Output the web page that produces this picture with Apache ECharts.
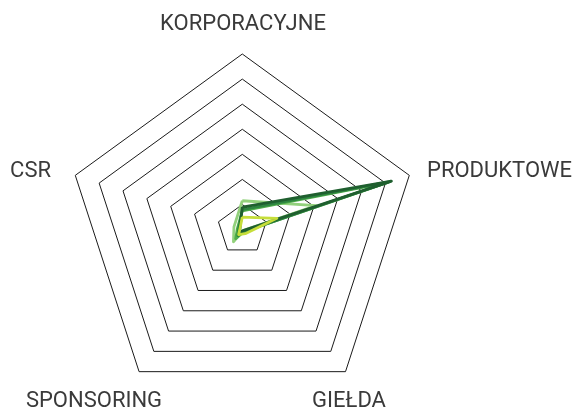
<!DOCTYPE html>
<html>
<head>
<meta charset="utf-8">
<script src="https://cdn.jsdelivr.net/npm/echarts@6/dist/echarts.min.js"></script>
<style>
  html, body { margin: 0; padding: 0; background: #fff; }
  #chart { width: 582px; height: 412px; }
</style>
</head>
<body>
<div id="chart"></div>
<script>
// axes go counter-clockwise from the top
var indicators = ['KORPORACYJNE', 'CSR', 'SPONSORING', 'GIEŁDA', 'PRODUKTOWE'];
var axisMax = 7;

var seriesNames = ['S4', 'S3', 'S2', 'S1', 'S5'];
var seriesColors = ['#92d17c', '#4fae4a', '#2e8540', '#1f5f2f', '#c6de3a'];
var valuesS4 = [1.15, 0.35, 0.6, 0.05, 3.1];
var valuesS3 = [0.75, 0.2, 0.45, 0.1, 6.1];
var valuesS2 = [0.8, 0.15, 0.3, 0.1, 6.2];
var valuesS1 = [0.9, 0.1, 0.15, 0.05, 6.25];
var valuesS5 = [0.5, 0.1, 0.25, 0.2, 1.45];
var seriesValues = [valuesS4, valuesS3, valuesS2, valuesS1, valuesS5];

var chart = echarts.init(document.getElementById('chart'));

var labelFont = '22px Roboto, "Noto Sans", sans-serif';
function label(text, x, y, align) {
  return {
    type: 'text', x: x, y: y, silent: true,
    style: {
      text: text, font: labelFont, fill: '#3a3a3a',
      textAlign: align, textVerticalAlign: 'middle',
      align: align, verticalAlign: 'middle'
    }
  };
}

chart.setOption({
  animation: false,
  radar: {
    center: [242.3, 229.6],
    radius: 175.6,
    shape: 'polygon',
    splitNumber: 7,
    startAngle: 90,
    indicator: indicators.map(function(n) { return { name: n, min: 0, max: axisMax }; }),
    axisName: { show: false },
    axisLine: { show: false },
    axisTick: { show: false },
    splitArea: { show: false },
    splitLine: { lineStyle: { color: '#1a1a1a', width: 1 } }
  },
  graphic: [
    label('KORPORACYJNE', 243, 24, 'center'),
    label('PRODUKTOWE', 427, 171, 'left'),
    label('CSR', 51, 171, 'right'),
    label('SPONSORING', 94, 401, 'center'),
    label('GIEŁDA', 349, 401, 'center')
  ],
  series: seriesValues.map(function(vals, i) {
    return {
      name: seriesNames[i],
      type: 'radar',
      symbol: 'none',
      lineStyle: { color: seriesColors[i], width: 2.8 },
      itemStyle: { color: seriesColors[i] },
      data: [{ value: vals }]
    };
  })
});
</script>
</body>
</html>
